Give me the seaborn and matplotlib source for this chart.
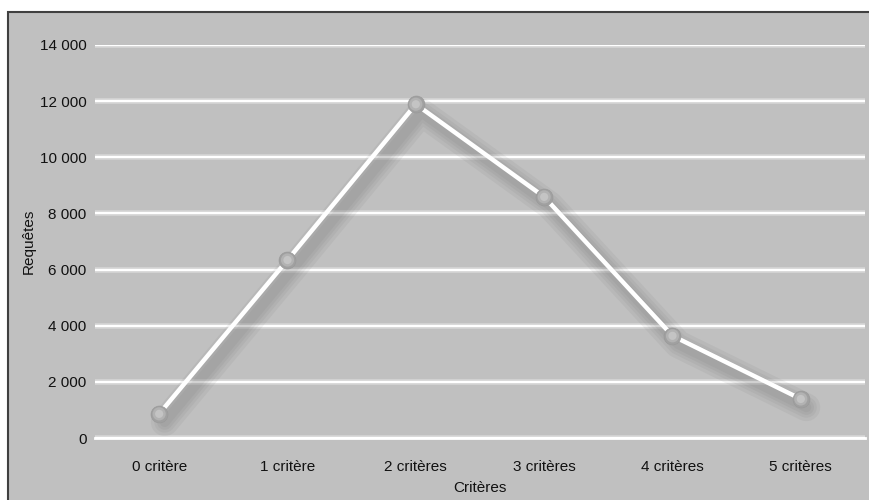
import seaborn as sns
import matplotlib.pyplot as plt
import matplotlib.patheffects as pe
from matplotlib.patches import Rectangle
from matplotlib.ticker import FuncFormatter
import pandas as pd

# data
categories = ['0 critère', '1 critère', '2 critères', '3 critères', '4 critères', '5 critères']
requetes = [860, 6340, 11890, 8590, 3640, 1390]
y_ticks = [0, 2000, 4000, 6000, 8000, 10000, 12000, 14000]

df = pd.DataFrame({'Critères': categories, 'Requêtes': requetes})

sns.set_style('white')
plt.rcParams['font.family'] = ['Liberation Sans', 'DejaVu Sans']

bg = '#c0c0c0'
fig = plt.figure(figsize=(8.7, 5), dpi=100)
fig.patch.set_facecolor('white')
# grey panel with dark border on the left/top
fig.patches.append(Rectangle((8 / 870, -0.05), 1.1, 1 - 12 / 500 + 0.05,
                             transform=fig.transFigure, facecolor=bg,
                             edgecolor='#404040', linewidth=1.5, zorder=-10))

ax = fig.add_axes([95 / 870, 1 - 438 / 500, 770 / 870, 393 / 500])
ax.set_zorder(1)
ax.set_facecolor(bg)
ax.patch.set_alpha(0)

shadow = [pe.SimpleLineShadow(offset=(4, -6), shadow_color='#606060', alpha=0.08, linewidth=w)
          for w in (20, 15, 11, 7)]
sns.lineplot(data=df, x='Critères', y='Requêtes', ax=ax, color='white', linewidth=3.2,
             sort=False, zorder=3, path_effects=shadow + [pe.Normal()])
ax.lines[0].set_solid_capstyle('round')
ax.lines[0].set_clip_on(False)

# sphere-like markers
sns.scatterplot(data=df, x='Critères', y='Requêtes', ax=ax, s=150, color='#a0a0a0',
                edgecolor='#989898', linewidth=0.4, zorder=4, clip_on=False)
sns.scatterplot(data=df, x='Critères', y='Requêtes', ax=ax, s=90, color='#b2b2b2',
                edgecolor='none', zorder=5, clip_on=False)
sns.scatterplot(data=df, x='Critères', y='Requêtes', ax=ax, s=35, color='#c4c4c4',
                edgecolor='none', zorder=6, clip_on=False)
ax.collections[0].set_path_effects([pe.SimplePatchShadow(offset=(3, -4), shadow_rgbFace='#555555', alpha=0.2), pe.Normal()])

ax.set_xlim(-0.5, 5.5)
ax.set_ylim(0, 14000)
ax.set_yticks(y_ticks)
ax.yaxis.set_major_formatter(FuncFormatter(lambda v, p: f'{v:,.0f}'.replace(',', ' ')))

ax.grid(axis='y', color='white', linewidth=1.6)
for gl in ax.get_ygridlines():
    gl.set_path_effects([pe.Stroke(linewidth=4, foreground='#d6d6d6'), pe.Normal()])
ax.set_axisbelow(True)

for s in ['top', 'right', 'left']:
    ax.spines[s].set_visible(False)
ax.spines['bottom'].set_color('white')
ax.spines['bottom'].set_linewidth(2)
ax.spines['bottom'].set_zorder(2)

ax.set_xticks([0.5, 1.5, 2.5, 3.5, 4.5], minor=True)
ax.tick_params(axis='x', which='minor', length=6, width=1.5, color='white', direction='out')
ax.tick_params(axis='x', which='major', length=0, pad=15.5, labelsize=11, labelcolor='#111111')
ax.tick_params(axis='y', length=0, pad=6, labelsize=11, labelcolor='#111111')

ax.set_xlabel('Critères', fontsize=11, labelpad=5.5, color='#111111')
ax.set_ylabel('Requêtes', fontsize=11, labelpad=3, color='#111111')

fig.savefig('out.png', dpi=100, facecolor=fig.get_facecolor())
